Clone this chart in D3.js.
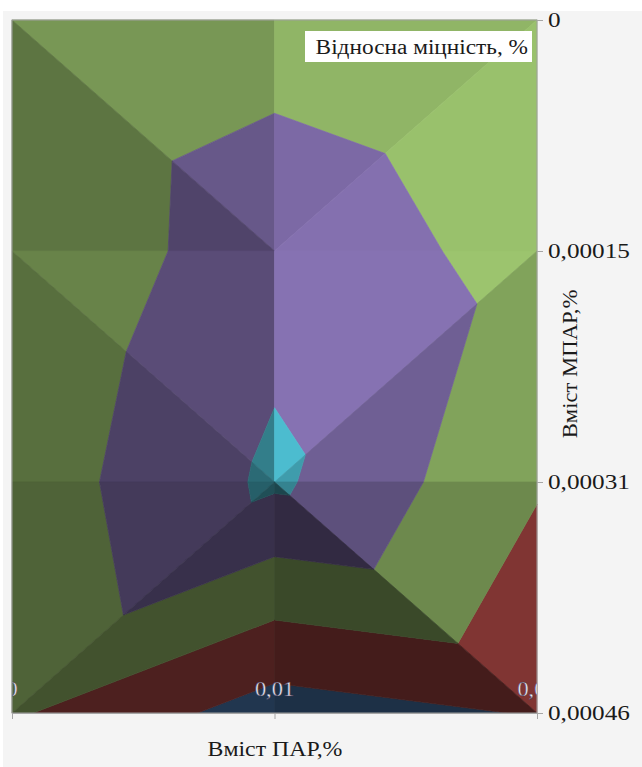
<!DOCTYPE html>
<html>
<head>
<meta charset="utf-8">
<script src="https://cdn.jsdelivr.net/npm/d3@7"></script>
<style>
  body { margin: 0; background: #ffffff; }
  text { font-family: "Liberation Serif", "Times New Roman", serif; }
</style>
</head>
<body>
<svg id="chart" width="642" height="767"></svg>
<script>
// ПАР content, % (columns) and МПАР content, % (rows)
const parLabels = ["0", "0,01", "0,02"];
const mparLabels = ["0", "0,00015", "0,00031", "0,00046"];

// Relative strength, %, one array per МПАР level, ordered by ПАР level
const strengthMpar0 = [110.3, 115.8, 111.5];
const strengthMpar1 = [110.9, 126.2, 116.5];
const strengthMpar2 = [114.1, 131.8, 111.0];
const strengthMpar3 = [111.3, 95.3, 100.6];

// Colour bands of the surface
const bandBreaks = [90, 100, 110, 120, 130, 140];
const bandColors = ["#4f81bd", "#b84c49", "#9cc46e", "#8672b2", "#4cbccf"];

// Which diagonal splits each grid cell: "d" = top-left to bottom-right, "u" = bottom-left to top-right
const cellSplitRow0 = ["d", "u"];
const cellSplitRow1 = ["d", "u"];
const cellSplitRow2 = ["u", "d"];

const legendTitle = "Відносна міцність, %";
const xTitle = "Вміст ПАР,%";
const yTitle = "Вміст МПАР,%";

const grid = [strengthMpar0, strengthMpar1, strengthMpar2, strengthMpar3];
const splits = [cellSplitRow0, cellSplitRow1, cellSplitRow2];

const svg = d3.select("#chart");
const W = 642, H = 767;
const plot = { left: 12, right: 537, top: 20, bottom: 713 };

// widen text a little, the chart uses a stretched serif face
function stretch(sel, factor) {
  sel.each(function () {
    const len = this.getComputedTextLength();
    d3.select(this).attr("textLength", len * factor).attr("lengthAdjust", "spacingAndGlyphs");
  });
}

// backdrop
svg.append("rect").attr("x", 3).attr("y", 11).attr("width", W - 3).attr("height", H - 11)
  .attr("fill", "#f4f4f4");

const x = d3.scalePoint().domain(parLabels).range([plot.left, plot.right]);
const y = d3.scalePoint().domain(mparLabels).range([plot.top, plot.bottom]);

// lighting: a lamp hanging high above the right side of the plot
const slope = 0.04;
const lamp = { x: 560, y: 150, h: 600 };
function facetBrightness(tri) {
  // plane z = z0 + gx*col + gy*row
  const [p, q, r] = tri;
  const a1 = q.c - p.c, b1 = q.r - p.r, c1 = q.z - p.z;
  const a2 = r.c - p.c, b2 = r.r - p.r, c2 = r.z - p.z;
  const det = a1 * b2 - a2 * b1;
  const gx = (c1 * b2 - c2 * b1) / det;
  const gy = (a1 * c2 - a2 * c1) / det;
  const nv = [-slope * gx, -slope * gy, 1];
  const nl = Math.hypot(...nv);
  const cx = (p.px + q.px + r.px) / 3, cy = (p.py + q.py + r.py) / 3;
  const lv = [lamp.x - cx, lamp.y - cy, lamp.h];
  const ll = Math.hypot(...lv);
  const dot = Math.max(0, (nv[0] * lv[0] + nv[1] * lv[1] + nv[2] * lv[2]) / (nl * ll));
  return 0.37 + 0.63 * dot;
}

function clipLevel(poly, level, keepAbove) {
  const out = [];
  for (let i = 0; i < poly.length; i++) {
    const cur = poly[i], nxt = poly[(i + 1) % poly.length];
    const cIn = keepAbove ? cur.z >= level : cur.z <= level;
    const nIn = keepAbove ? nxt.z >= level : nxt.z <= level;
    if (cIn) out.push(cur);
    if (cIn !== nIn) {
      const t = (level - cur.z) / (nxt.z - cur.z);
      out.push({ px: cur.px + t * (nxt.px - cur.px), py: cur.py + t * (nxt.py - cur.py), z: level });
    }
  }
  return out;
}

const node = (r, c) => ({ r, c, z: grid[r][c], px: x(parLabels[c]), py: y(mparLabels[r]) });

const facets = [];
splits.forEach((row, r) => row.forEach((s, c) => {
  const tl = node(r, c), tr = node(r, c + 1), bl = node(r + 1, c), br = node(r + 1, c + 1);
  if (s === "d") {
    facets.push([tl, tr, br], [tl, bl, br]);
  } else {
    facets.push([tl, tr, bl], [tr, br, bl]);
  }
}));

const surface = svg.append("g");
facets.forEach(tri => {
  const k = facetBrightness(tri);
  bandColors.forEach((col, i) => {
    let poly = clipLevel(tri, bandBreaks[i], true);
    if (poly.length < 3) return;
    poly = clipLevel(poly, bandBreaks[i + 1], false);
    if (poly.length < 3) return;
    const base = d3.rgb(col);
    const fill = d3.rgb(Math.min(255, base.r * k), Math.min(255, base.g * k), Math.min(255, base.b * k)).formatHex();
    surface.append("path")
      .attr("d", "M" + poly.map(p => p.px + "," + p.py).join("L") + "Z")
      .attr("fill", fill).attr("stroke", fill).attr("stroke-width", 0.7)
      .attr("stroke-linejoin", "round");
  });
});

// plot frame
svg.append("rect").attr("x", plot.left).attr("y", plot.top)
  .attr("width", plot.right - plot.left).attr("height", plot.bottom - plot.top)
  .attr("fill", "none").attr("stroke", "#a0a0a0").attr("stroke-width", 1);

// category labels of ПАР sit inside the floor of the plot
svg.append("clipPath").attr("id", "plotClip").append("rect")
  .attr("x", plot.left).attr("y", plot.top)
  .attr("width", plot.right - plot.left).attr("height", plot.bottom - plot.top);

const xAxis = svg.append("g").attr("transform", `translate(0,${plot.bottom})`)
  .call(d3.axisBottom(x).tickSize(6).tickFormat(""));
xAxis.select(".domain").attr("stroke", "#a6a6a6");
xAxis.selectAll(".tick line").attr("stroke", "#a6a6a6");

const xLabels = svg.append("g").attr("clip-path", "url(#plotClip)")
  .selectAll("text").data(parLabels).join("text")
  .attr("x", d => x(d)).attr("y", plot.bottom - 17)
  .attr("text-anchor", "middle")
  .attr("font-size", 20)
  .attr("fill", "#ecebf4")
  .attr("stroke", "#3a3050").attr("stroke-width", 0.4)
  .text(d => d);
stretch(xLabels, 1.12);

const yAxis = svg.append("g").attr("transform", `translate(${plot.right},0)`)
  .call(d3.axisRight(y).tickSize(6).tickPadding(5));
yAxis.select(".domain").attr("stroke", "none");
yAxis.selectAll(".tick line").attr("stroke", "#a6a6a6");
const yTicks = yAxis.selectAll(".tick text")
  .attr("font-family", "'Liberation Serif', 'Times New Roman', serif")
  .attr("font-size", 21).attr("fill", "#1a1a1a");
stretch(yTicks, 1.2);

// axis titles
const xt = svg.append("text").attr("x", 275).attr("y", 756).attr("text-anchor", "middle")
  .attr("font-size", 20).attr("fill", "#1a1a1a").text(xTitle);
stretch(xt, 1.19);
const yt = svg.append("text").attr("transform", "translate(577,364) rotate(-90)")
  .attr("text-anchor", "middle").attr("font-size", 21).attr("fill", "#1a1a1a").text(yTitle);
stretch(yt, 1.08);

// legend title box
svg.append("rect").attr("x", 305).attr("y", 31).attr("width", 227).attr("height", 31)
  .attr("fill", "#ffffff");
const lt = svg.append("text").attr("x", 528).attr("y", 54).attr("text-anchor", "end")
  .attr("font-size", 20).attr("fill", "#1a1a1a").text(legendTitle);
stretch(lt, 1.165);
</script>
</body>
</html>
